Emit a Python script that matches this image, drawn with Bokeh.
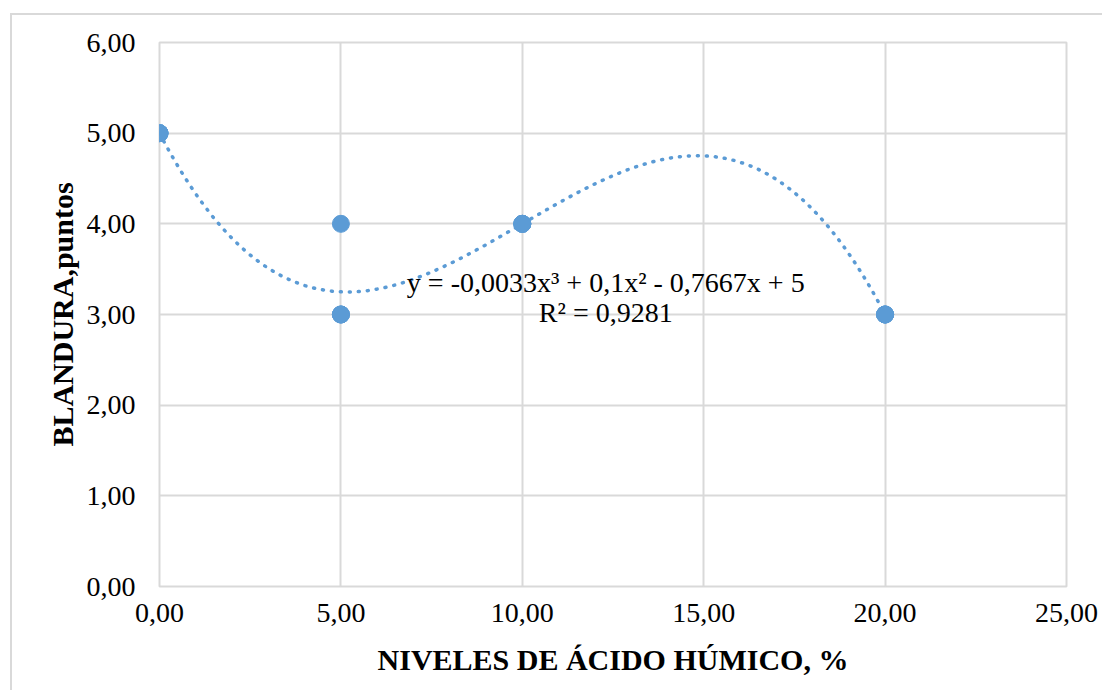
import numpy as np
from bokeh.plotting import figure
from bokeh.models import Label, Range1d, FixedTicker
from bokeh.embed import file_html
from bokeh.resources import INLINE

# ---- data (replicates per level; overlapping points coincide) ----
x_vals = [0, 0, 0, 0, 5, 5, 5, 5, 10, 10, 10, 10, 20, 20, 20, 20]
y_vals = [5, 5, 5, 5, 3, 3, 3, 4, 4, 4, 4, 4, 3, 3, 3, 3]
x_ticks = [0, 5, 10, 15, 20, 25]
y_ticks = [0, 1, 2, 3, 4, 5, 6]
x_tick_labels = ["0,00", "5,00", "10,00", "15,00", "20,00", "25,00"]
y_tick_labels = ["0,00", "1,00", "2,00", "3,00", "4,00", "5,00", "6,00"]
eq_text = "y = -0,0033x³ + 0,1x² - 0,7667x + 5"
r2_text = "R² = 0,9281"
x_title = "NIVELES DE ÁCIDO HÚMICO, %"
y_title = "BLANDURA,puntos"

FONT = "Liberation Serif"
BLUE = "#5b9bd5"
GRID = "#d9d9d9"

p = figure(width=1092, height=677, output_backend="svg", toolbar_location=None,
           x_range=Range1d(0, 25), y_range=Range1d(0, 6),
           min_border_left=147, min_border_right=38, min_border_top=27,
           min_border_bottom=106,
           styles={"border-left": "2px solid #d9d9d9", "border-top": "2px solid #d9d9d9",
                   "margin-left": "10px", "margin-top": "13px"})

p.background_fill_color = "white"
p.border_fill_color = "white"
p.outline_line_color = GRID
p.outline_line_width = 2

for ax, ticks, labels in ((p.xaxis[0], x_ticks, x_tick_labels), (p.yaxis[0], y_ticks, y_tick_labels)):
    ax.ticker = FixedTicker(ticks=ticks)
    ax.major_label_overrides = {t: l for t, l in zip(ticks, labels)}
    ax.axis_line_color = None
    ax.major_tick_line_color = None
    ax.minor_tick_line_color = None
    ax.major_label_text_font = FONT
    ax.major_label_text_font_size = "28px"
    ax.major_label_text_color = "black"
    ax.axis_label_text_font = FONT
    ax.axis_label_text_font_size = "30px"
    ax.axis_label_text_font_style = "bold"
    ax.axis_label_text_color = "black"

p.xaxis.axis_label = x_title
p.yaxis.axis_label = y_title
p.xaxis.major_label_standoff = 11
p.yaxis.major_label_standoff = 18
p.xaxis.axis_label_standoff = 18
p.yaxis.axis_label_standoff = 5

p.xgrid.ticker = FixedTicker(ticks=x_ticks)
p.ygrid.ticker = FixedTicker(ticks=y_ticks)
p.grid.grid_line_color = GRID
p.grid.grid_line_width = 2

# polynomial (3rd order) trend line fitted to the data
coef = np.polyfit(x_vals, y_vals, 3)
xs = np.linspace(min(x_vals), max(x_vals), 300)
ys = np.polyval(coef, xs)
p.line(xs, ys, line_color=BLUE, line_width=3.5, line_dash="1 8", line_cap="round")

p.scatter(x_vals, y_vals, size=17, fill_color=BLUE, line_color=BLUE)

p.add_layout(Label(x=12.3, y=3.35, text=eq_text, text_align="center", text_baseline="middle",
                   text_font=FONT, text_font_size="28px", text_color="black"))
p.add_layout(Label(x=12.3, y=3.02, text=r2_text, text_align="center", text_baseline="middle",
                   text_font=FONT, text_font_size="28px", text_color="black"))

open("out.html", "w").write(file_html(p, INLINE))
